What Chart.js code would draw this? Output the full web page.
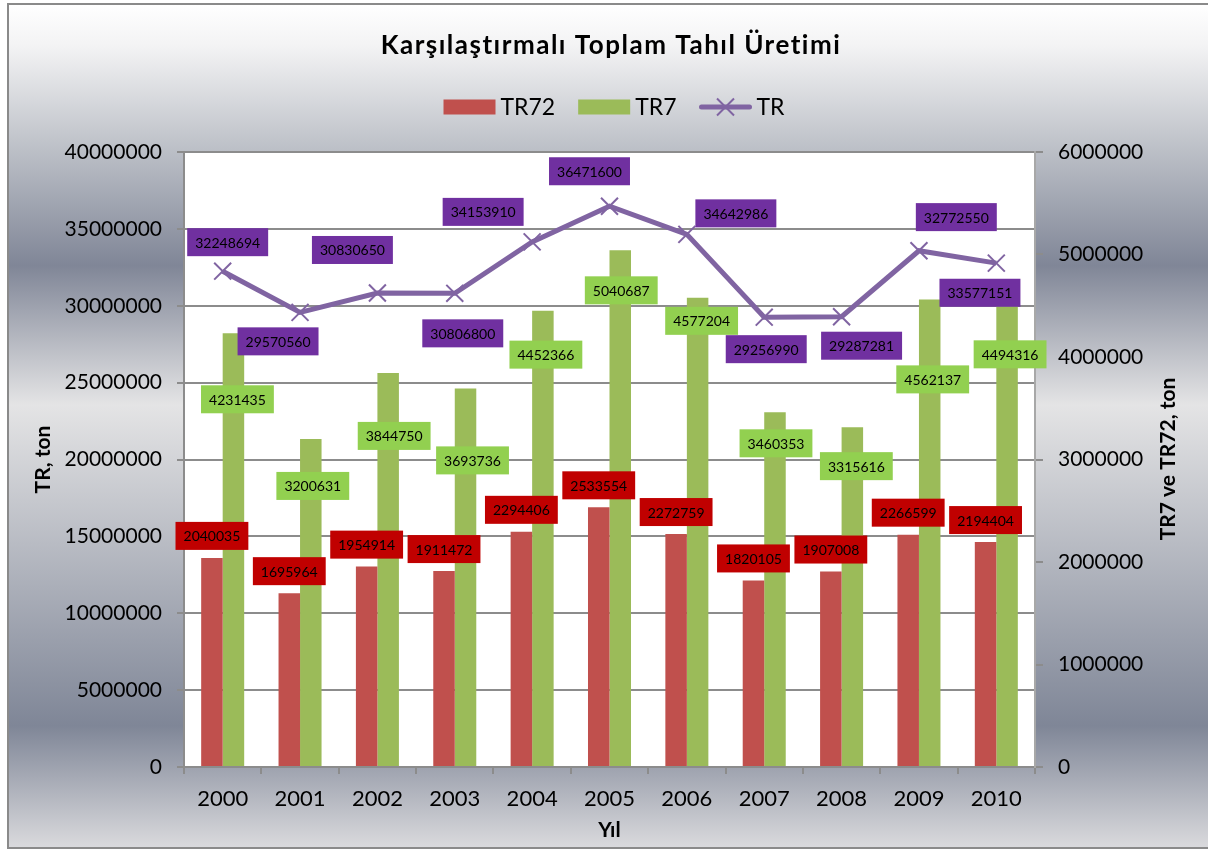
<!DOCTYPE html>
<html lang="tr">
<head>
<meta charset="utf-8">
<title>Karşılaştırmalı Toplam Tahıl Üretimi</title>
<script src="https://cdn.jsdelivr.net/npm/chart.js@4.4.1/dist/chart.umd.min.js"></script>
<style>
  html, body { margin: 0; padding: 0; background: #fff; }
  #chartWrap { width: 1208px; height: 850px; }
</style>
</head>
<body>
<div id="chartWrap"><canvas id="myChart" width="1208" height="850"></canvas></div>
<script>
// data
const years = ['2000', '2001', '2002', '2003', '2004', '2005', '2006', '2007', '2008', '2009', '2010'];
const tr72Values = [2040035, 1695964, 1954914, 1911472, 2294406, 2533554, 2272759, 1820105, 1907008, 2266599, 2194404];
const tr7Values = [4231435, 3200631, 3844750, 3693736, 4452366, 5040687, 4577204, 3460353, 3315616, 4562137, 4494316];
const trValues = [32248694, 29570560, 30830650, 30806800, 34153910, 36471600, 34642986, 29256990, 29287281, 33577151, 32772550];

// where each value box sits, relative to its point / bar top (px)
const trLabelShift = [[5, -29], [-22, 29], [-25, -43], [8, 40], [-49, -30], [-20, -35], [49, -21], [2, 32], [20, 29], [61, 42], [-40, -46]];
const tr7LabelShift = [[4, 66], [2, 47], [6, 63], [7, 72], [3, 44], [1, 40], [4, 23], [1, 31], [4, 39], [3, 80], [3, 48]];
const tr72LabelShift = years.map(() => [0, -22]);

const FONT = 'Lato';
const plainNumber = v => String(v);

const background = {
    id: 'background',
    beforeDraw(chart) {
        const ctx = chart.ctx;
        const { left, top, right, bottom } = chart.chartArea;
        ctx.save();
        ctx.fillStyle = '#ffffff';
        ctx.fillRect(0, 0, chart.width, chart.height);
        const g = ctx.createLinearGradient(0, 4, 0, 848);
        g.addColorStop(0, '#ffffff');
        g.addColorStop(0.05, '#f3f3f4');
        g.addColorStop(0.15, '#c6c9cf');
        g.addColorStop(0.31, '#808697');
        g.addColorStop(0.475, '#e4e4e5');
        g.addColorStop(0.855, '#7f8697');
        g.addColorStop(1, '#dadadd');
        ctx.fillStyle = g;
        ctx.fillRect(8, 4, 1200, 844);
        ctx.fillStyle = '#ffffff';
        ctx.fillRect(left, top, right - left, bottom - top);
        ctx.strokeStyle = '#8a8a8a';
        ctx.lineWidth = 2;
        ctx.strokeRect(8, 4, 1210, 844);
        ctx.restore();
    }
};

const headings = {
    id: 'headings',
    afterDraw(chart) {
        const ctx = chart.ctx;
        ctx.save();
        ctx.fillStyle = '#000';
        ctx.textAlign = 'center';
        ctx.textBaseline = 'middle';
        ctx.font = `bold 26px ${FONT}`;
        if ('letterSpacing' in ctx) ctx.letterSpacing = '1.5px';
        ctx.fillText('Karşılaştırmalı Toplam Tahıl Üretimi', 611, 46);
        if ('letterSpacing' in ctx) ctx.letterSpacing = '0px';

        // right axis title, reading upwards
        ctx.save();
        ctx.translate(1168, 459);
        ctx.rotate(-Math.PI / 2);
        ctx.font = `bold 21px ${FONT}`;
        ctx.fillText('TR7 ve TR72, ton', 0, 0);
        ctx.restore();

        // legend
        ctx.font = `23px ${FONT}`;
        ctx.textAlign = 'left';
        const items = chart.data.datasets.map(ds => ({ ds, w: ctx.measureText(ds.label).width }));
        const markW = 52, gapText = 5, gapItem = 23;
        let total = 0;
        items.forEach(it => { total += markW + gapText + it.w; });
        total += gapItem * (items.length - 1);
        let x = 614 - total / 2;
        const cy = 107;
        items.forEach(it => {
            const ds = it.ds;
            if (ds.type === 'line') {
                ctx.strokeStyle = ds.borderColor;
                ctx.lineWidth = 5;
                ctx.lineCap = 'round';
                ctx.beginPath();
                ctx.moveTo(x + 2, cy);
                ctx.lineTo(x + markW - 2, cy);
                ctx.stroke();
                ctx.lineWidth = 2;
                ctx.lineCap = 'butt';
                const r = 8.5, mx = x + markW / 2;
                ctx.beginPath();
                ctx.moveTo(mx - r, cy - r); ctx.lineTo(mx + r, cy + r);
                ctx.moveTo(mx - r, cy + r); ctx.lineTo(mx + r, cy - r);
                ctx.stroke();
            } else {
                ctx.fillStyle = ds.backgroundColor;
                ctx.fillRect(x, cy - 7.5, markW, 15);
            }
            ctx.fillStyle = '#000';
            ctx.fillText(ds.label, x + markW + gapText, cy + 1);
            x += markW + gapText + it.w + gapItem;
        });
        ctx.restore();
    }
};

const valueBoxes = {
    id: 'valueBoxes',
    afterDatasetsDraw(chart) {
        const ctx = chart.ctx;
        ctx.save();
        ctx.font = `14px ${FONT}`;
        ctx.textAlign = 'center';
        ctx.textBaseline = 'middle';
        chart.data.datasets.forEach((ds, i) => {
            const meta = chart.getDatasetMeta(i);
            meta.data.forEach((el, j) => {
                const text = String(ds.data[j]);
                const w = ctx.measureText(text).width + 16;
                const cx = el.x + ds.labelShift[j][0];
                const cy = el.y + ds.labelShift[j][1];
                ctx.fillStyle = ds.labelFill;
                ctx.fillRect(cx - w / 2, cy - 14, w, 28);
                ctx.fillStyle = '#000';
                ctx.fillText(text, cx, cy + 1);
            });
        });
        ctx.restore();
    }
};

const ctx = document.getElementById('myChart').getContext('2d');
const myChart = new Chart(ctx, {
    type: 'bar',
    data: {
        labels: years,
        datasets: [{
            label: 'TR72',
            data: tr72Values,
            backgroundColor: '#C0504D',
            yAxisID: 'y1',
            order: 1,
            labelFill: '#C00000',
            labelShift: tr72LabelShift
        }, {
            label: 'TR7',
            data: tr7Values,
            backgroundColor: '#9BBB59',
            yAxisID: 'y1',
            order: 1,
            labelFill: '#92D050',
            labelShift: tr7LabelShift
        }, {
            type: 'line',
            label: 'TR',
            data: trValues,
            borderColor: '#8064A2',
            backgroundColor: '#8064A2',
            borderWidth: 5,
            pointStyle: 'crossRot',
            pointRadius: 12,
            pointBorderWidth: 2,
            pointBorderColor: '#8064A2',
            tension: 0,
            yAxisID: 'y',
            order: 0,
            labelFill: '#7030A0',
            labelShift: trLabelShift
        }]
    },
    options: {
        responsive: false,
        animation: false,
        devicePixelRatio: 1,
        layout: { padding: { top: 152, left: 0, right: 0, bottom: 0 } },
        categoryPercentage: 0.556,
        barPercentage: 1.0,
        plugins: {
            legend: { display: false },
            title: { display: false },
            tooltip: { enabled: false }
        },
        scales: {
            x: {
                offset: true,
                grid: { display: true, drawOnChartArea: false, drawTicks: true, tickLength: 7, color: '#8c8c8c', lineWidth: 2, offset: true },
                border: { display: true, color: '#8c8c8c', width: 2 },
                ticks: { color: '#000', font: { family: FONT, size: 22 }, padding: 12, maxRotation: 0 },
                title: { display: true, text: 'Yıl', color: '#000', font: { family: FONT, size: 21, weight: 'bold' }, padding: { top: 0, bottom: 7 } },
                afterFit: s => { s.height = 83; }
            },
            y: {
                position: 'left',
                min: 0,
                max: 40000000,
                grid: { color: '#8c8c8c', lineWidth: 2, tickLength: 7 },
                border: { display: true, color: '#8c8c8c', width: 2 },
                ticks: { stepSize: 5000000, color: '#000', font: { family: FONT, size: 21 }, padding: 15, callback: plainNumber },
                title: { display: true, text: 'TR, ton', color: '#000', font: { family: FONT, size: 21, weight: 'bold' }, padding: { top: 31, bottom: 0 } },
                afterFit: s => { s.width = 184; }
            },
            y1: {
                position: 'right',
                min: 0,
                max: 6000000,
                grid: { drawOnChartArea: false, tickLength: 8, color: '#8c8c8c', lineWidth: 2 },
                border: { display: true, color: '#a8a8a8', width: 2 },
                ticks: { stepSize: 1000000, color: '#000', font: { family: FONT, size: 21 }, padding: 15, callback: plainNumber },
                afterFit: s => { s.width = 173; }
            }
        }
    },
    plugins: [background, valueBoxes, headings]
});
</script>
</body>
</html>
